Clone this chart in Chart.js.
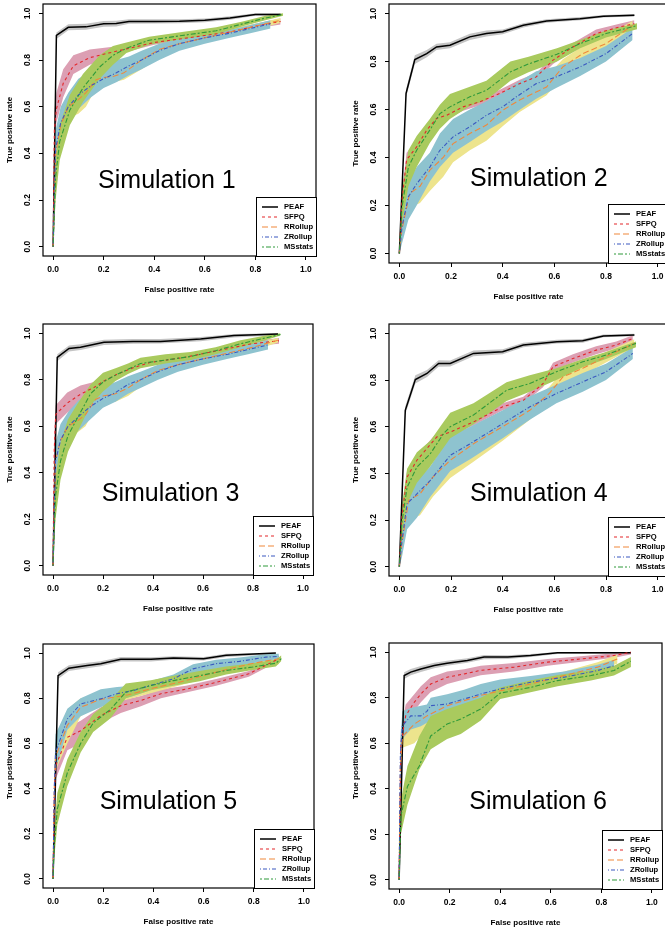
<!DOCTYPE html>
<html>
<head>
<meta charset="utf-8">
<script src="https://cdn.jsdelivr.net/npm/chart.js@4.4.0/dist/chart.umd.min.js"></script>
<style>
  html, body { margin: 0; padding: 0; background: #fff; width: 665px; height: 930px; overflow: hidden; }
  canvas { position: absolute; left: 0; top: 0; }
</style>
</head>
<body>
<script>
// ---- data ----
const methods = ["PEAF", "SFPQ", "RRollup", "ZRollup", "MSstats"];
const tickValues = [0, 0.2, 0.4, 0.6, 0.8, 1.0];
const xTitle = "False positive rate";
const yTitle = "True positive rate";

// Simulation 1
const sim1PEAF_fpr = [0, 0.013, 0.06, 0.13, 0.2, 0.25, 0.3, 0.4, 0.5, 0.6, 0.7, 0.8, 0.9];
const sim1PEAF_tpr = [0, 0.905, 0.94, 0.942, 0.955, 0.956, 0.965, 0.965, 0.966, 0.97, 0.98, 0.995, 0.995];
const sim1PEAF_lo = [0, 0.89, 0.927, 0.93, 0.943, 0.944, 0.955, 0.956, 0.957, 0.962, 0.972, 0.99, 0.99];
const sim1PEAF_hi = [0.01, 0.918, 0.953, 0.955, 0.967, 0.968, 0.975, 0.975, 0.975, 0.978, 0.988, 1.0, 1.0];
const sim1SFPQ_fpr = [0, 0.005, 0.013, 0.04, 0.08, 0.145, 0.22, 0.3, 0.4, 0.5, 0.6, 0.7, 0.8, 0.9];
const sim1SFPQ_tpr = [0, 0.5, 0.59, 0.7, 0.775, 0.81, 0.83, 0.85, 0.875, 0.89, 0.905, 0.92, 0.945, 0.965];
const sim1SFPQ_lo = [0, 0.42, 0.53, 0.64, 0.74, 0.78, 0.81, 0.838, 0.865, 0.88, 0.895, 0.91, 0.935, 0.952];
const sim1SFPQ_hi = [0, 0.58, 0.66, 0.76, 0.82, 0.845, 0.855, 0.865, 0.885, 0.9, 0.915, 0.93, 0.955, 0.978];
const sim1RR_fpr = [0, 0.01, 0.03, 0.06, 0.1, 0.13, 0.17, 0.2, 0.24, 0.28, 0.35, 0.42, 0.5, 0.6, 0.7, 0.8, 0.9];
const sim1RR_tpr = [0, 0.4, 0.52, 0.6, 0.63, 0.66, 0.715, 0.725, 0.73, 0.745, 0.8, 0.845, 0.87, 0.895, 0.92, 0.945, 0.97];
const sim1RR_lo = [0, 0.3, 0.44, 0.55, 0.57, 0.6, 0.68, 0.7, 0.705, 0.715, 0.76, 0.81, 0.845, 0.875, 0.9, 0.93, 0.96];
const sim1RR_hi = [0, 0.46, 0.58, 0.65, 0.69, 0.7, 0.735, 0.75, 0.76, 0.775, 0.82, 0.86, 0.885, 0.91, 0.935, 0.955, 0.98];
const sim1ZR_fpr = [0, 0.01, 0.03, 0.06, 0.1, 0.15, 0.2, 0.25, 0.3, 0.35, 0.42, 0.5, 0.6, 0.7, 0.78, 0.86];
const sim1ZR_tpr = [0, 0.42, 0.53, 0.6, 0.65, 0.69, 0.72, 0.745, 0.775, 0.8, 0.84, 0.87, 0.895, 0.915, 0.935, 0.955];
const sim1ZR_lo = [0, 0.33, 0.46, 0.54, 0.59, 0.64, 0.68, 0.705, 0.735, 0.76, 0.8, 0.84, 0.87, 0.895, 0.915, 0.935];
const sim1ZR_hi = [0, 0.5, 0.6, 0.66, 0.72, 0.755, 0.78, 0.8, 0.815, 0.84, 0.87, 0.89, 0.91, 0.93, 0.95, 0.97];
const sim1MS_fpr = [0, 0.01, 0.026, 0.066, 0.118, 0.184, 0.237, 0.29, 0.38, 0.51, 0.645, 0.75, 0.84, 0.91];
const sim1MS_tpr = [0, 0.3, 0.45, 0.585, 0.68, 0.77, 0.82, 0.85, 0.885, 0.905, 0.925, 0.955, 0.98, 0.995];
const sim1MS_lo = [0, 0.2, 0.37, 0.52, 0.62, 0.72, 0.78, 0.83, 0.865, 0.89, 0.91, 0.945, 0.97, 0.99];
const sim1MS_hi = [0, 0.38, 0.52, 0.65, 0.74, 0.82, 0.86, 0.875, 0.9, 0.92, 0.94, 0.965, 0.99, 1.0];

// Simulation 2
const sim2PEAF_fpr = [0, 0.026, 0.06, 0.106, 0.144, 0.196, 0.273, 0.337, 0.4, 0.48, 0.57, 0.7, 0.79, 0.91];
const sim2PEAF_tpr = [0, 0.667, 0.808, 0.833, 0.861, 0.868, 0.903, 0.917, 0.924, 0.951, 0.969, 0.979, 0.989, 0.993];
const sim2PEAF_lo = [0, 0.65, 0.79, 0.818, 0.848, 0.855, 0.89, 0.905, 0.914, 0.942, 0.962, 0.972, 0.984, 0.988];
const sim2PEAF_hi = [0, 0.685, 0.826, 0.848, 0.874, 0.881, 0.916, 0.929, 0.934, 0.96, 0.976, 0.986, 0.994, 0.998];
const sim2SFPQ_fpr = [0, 0.01, 0.028, 0.067, 0.106, 0.144, 0.183, 0.247, 0.311, 0.389, 0.466, 0.53, 0.595, 0.672, 0.762, 0.852, 0.91];
const sim2SFPQ_tpr = [0, 0.22, 0.39, 0.444, 0.514, 0.563, 0.576, 0.611, 0.632, 0.667, 0.708, 0.736, 0.806, 0.861, 0.917, 0.944, 0.958];
const sim2SFPQ_lo = [0, 0.19, 0.36, 0.42, 0.495, 0.545, 0.56, 0.595, 0.617, 0.652, 0.692, 0.72, 0.79, 0.845, 0.9, 0.93, 0.945];
const sim2SFPQ_hi = [0, 0.25, 0.42, 0.468, 0.533, 0.58, 0.595, 0.627, 0.647, 0.682, 0.724, 0.752, 0.822, 0.877, 0.934, 0.958, 0.972];
const sim2RR_fpr = [0, 0.01, 0.04, 0.08, 0.118, 0.17, 0.208, 0.273, 0.337, 0.4, 0.466, 0.57, 0.633, 0.71, 0.8, 0.903];
const sim2RR_tpr = [0, 0.1, 0.25, 0.28, 0.347, 0.4, 0.458, 0.5, 0.535, 0.597, 0.64, 0.694, 0.778, 0.833, 0.875, 0.951];
const sim2RR_lo = [0, 0.06, 0.19, 0.21, 0.26, 0.32, 0.38, 0.43, 0.47, 0.53, 0.59, 0.66, 0.74, 0.8, 0.85, 0.935];
const sim2RR_hi = [0, 0.14, 0.3, 0.33, 0.4, 0.45, 0.5, 0.55, 0.59, 0.64, 0.69, 0.74, 0.81, 0.865, 0.905, 0.97];
const sim2ZR_fpr = [0, 0.01, 0.035, 0.067, 0.118, 0.157, 0.208, 0.273, 0.337, 0.4, 0.453, 0.53, 0.607, 0.7, 0.8, 0.903];
const sim2ZR_tpr = [0, 0.11, 0.236, 0.29, 0.36, 0.43, 0.486, 0.528, 0.576, 0.611, 0.653, 0.708, 0.736, 0.778, 0.833, 0.917];
const sim2ZR_lo = [0, 0.04, 0.14, 0.2, 0.3, 0.36, 0.42, 0.465, 0.51, 0.55, 0.59, 0.645, 0.69, 0.74, 0.8, 0.89];
const sim2ZR_hi = [0, 0.18, 0.3, 0.36, 0.42, 0.5, 0.56, 0.6, 0.635, 0.67, 0.71, 0.76, 0.78, 0.815, 0.865, 0.94];
const sim2MS_fpr = [0, 0.01, 0.035, 0.067, 0.118, 0.157, 0.196, 0.273, 0.337, 0.43, 0.5, 0.61, 0.7, 0.8, 0.92];
const sim2MS_tpr = [0, 0.19, 0.36, 0.43, 0.514, 0.583, 0.611, 0.653, 0.68, 0.757, 0.79, 0.83, 0.875, 0.917, 0.95];
const sim2MS_lo = [0, 0.12, 0.28, 0.36, 0.46, 0.52, 0.56, 0.615, 0.64, 0.72, 0.755, 0.8, 0.855, 0.9, 0.935];
const sim2MS_hi = [0, 0.26, 0.43, 0.49, 0.56, 0.62, 0.665, 0.695, 0.72, 0.8, 0.82, 0.855, 0.89, 0.93, 0.96];

// Simulation 3
const sim3PEAF_fpr = [0, 0.017, 0.064, 0.11, 0.204, 0.32, 0.43, 0.59, 0.724, 0.9];
const sim3PEAF_tpr = [0, 0.896, 0.935, 0.94, 0.961, 0.965, 0.965, 0.975, 0.99, 0.997];
const sim3PEAF_lo = [0, 0.88, 0.922, 0.928, 0.95, 0.955, 0.956, 0.966, 0.982, 0.992];
const sim3PEAF_hi = [0.01, 0.91, 0.948, 0.953, 0.972, 0.975, 0.975, 0.984, 0.997, 1.0];
const sim3SFPQ_fpr = [0, 0.005, 0.011, 0.057, 0.11, 0.164, 0.204, 0.257, 0.324, 0.39, 0.524, 0.657, 0.79, 0.904];
const sim3SFPQ_tpr = [0, 0.5, 0.651, 0.7, 0.738, 0.767, 0.795, 0.824, 0.853, 0.875, 0.896, 0.925, 0.954, 0.968];
const sim3SFPQ_lo = [0, 0.42, 0.61, 0.658, 0.7, 0.745, 0.78, 0.812, 0.843, 0.865, 0.886, 0.915, 0.944, 0.955];
const sim3SFPQ_hi = [0, 0.58, 0.69, 0.745, 0.775, 0.79, 0.81, 0.836, 0.863, 0.885, 0.906, 0.935, 0.964, 0.98];
const sim3RR_fpr = [0, 0.01, 0.03, 0.06, 0.1, 0.13, 0.17, 0.2, 0.25, 0.3, 0.35, 0.42, 0.5, 0.6, 0.7, 0.8, 0.9];
const sim3RR_tpr = [0, 0.45, 0.54, 0.6, 0.625, 0.65, 0.715, 0.73, 0.74, 0.765, 0.8, 0.84, 0.865, 0.89, 0.915, 0.94, 0.97];
const sim3RR_lo = [0, 0.35, 0.47, 0.55, 0.575, 0.6, 0.68, 0.7, 0.705, 0.73, 0.77, 0.81, 0.84, 0.87, 0.895, 0.925, 0.96];
const sim3RR_hi = [0, 0.52, 0.6, 0.65, 0.68, 0.7, 0.735, 0.75, 0.765, 0.79, 0.82, 0.86, 0.88, 0.905, 0.93, 0.955, 0.98];
const sim3ZR_fpr = [0, 0.01, 0.03, 0.06, 0.1, 0.15, 0.2, 0.25, 0.3, 0.35, 0.42, 0.5, 0.6, 0.7, 0.78, 0.86];
const sim3ZR_tpr = [0, 0.45, 0.54, 0.6, 0.64, 0.685, 0.72, 0.745, 0.78, 0.8, 0.835, 0.865, 0.89, 0.91, 0.93, 0.95];
const sim3ZR_lo = [0, 0.36, 0.47, 0.54, 0.58, 0.63, 0.68, 0.705, 0.74, 0.765, 0.8, 0.835, 0.865, 0.89, 0.91, 0.93];
const sim3ZR_hi = [0, 0.53, 0.61, 0.66, 0.71, 0.745, 0.77, 0.79, 0.815, 0.835, 0.865, 0.89, 0.91, 0.93, 0.95, 0.97];
const sim3MS_fpr = [0, 0.01, 0.03, 0.06, 0.1, 0.15, 0.2, 0.25, 0.3, 0.35, 0.45, 0.55, 0.65, 0.75, 0.85, 0.91];
const sim3MS_tpr = [0, 0.3, 0.45, 0.56, 0.64, 0.74, 0.79, 0.82, 0.845, 0.87, 0.885, 0.9, 0.925, 0.955, 0.98, 0.995];
const sim3MS_lo = [0, 0.2, 0.37, 0.49, 0.58, 0.69, 0.75, 0.795, 0.825, 0.85, 0.87, 0.885, 0.91, 0.94, 0.97, 0.99];
const sim3MS_hi = [0, 0.38, 0.53, 0.63, 0.7, 0.78, 0.83, 0.85, 0.87, 0.895, 0.91, 0.92, 0.94, 0.97, 0.99, 1.0];

// Simulation 4
const sim4PEAF_fpr = [0, 0.023, 0.062, 0.107, 0.152, 0.197, 0.287, 0.4, 0.48, 0.61, 0.71, 0.79, 0.91];
const sim4PEAF_tpr = [0, 0.67, 0.802, 0.828, 0.871, 0.871, 0.914, 0.921, 0.95, 0.964, 0.968, 0.989, 0.993];
const sim4PEAF_lo = [0, 0.652, 0.785, 0.813, 0.857, 0.858, 0.902, 0.91, 0.94, 0.956, 0.96, 0.983, 0.988];
const sim4PEAF_hi = [0, 0.688, 0.82, 0.843, 0.885, 0.884, 0.926, 0.932, 0.96, 0.972, 0.976, 0.995, 0.998];
const sim4SFPQ_fpr = [0, 0.01, 0.03, 0.068, 0.145, 0.197, 0.287, 0.4, 0.48, 0.557, 0.595, 0.672, 0.762, 0.84, 0.904];
const sim4SFPQ_tpr = [0, 0.22, 0.384, 0.456, 0.556, 0.577, 0.62, 0.685, 0.713, 0.785, 0.857, 0.892, 0.928, 0.95, 0.978];
const sim4SFPQ_lo = [0, 0.19, 0.355, 0.435, 0.538, 0.56, 0.605, 0.67, 0.698, 0.77, 0.84, 0.875, 0.91, 0.935, 0.962];
const sim4SFPQ_hi = [0, 0.25, 0.41, 0.478, 0.574, 0.595, 0.635, 0.7, 0.728, 0.8, 0.874, 0.91, 0.945, 0.965, 0.992];
const sim4RR_fpr = [0, 0.01, 0.036, 0.08, 0.13, 0.197, 0.287, 0.4, 0.505, 0.58, 0.634, 0.71, 0.8, 0.91];
const sim4RR_tpr = [0, 0.1, 0.284, 0.312, 0.384, 0.456, 0.527, 0.6, 0.67, 0.742, 0.814, 0.85, 0.9, 0.957];
const sim4RR_lo = [0, 0.06, 0.2, 0.22, 0.3, 0.38, 0.45, 0.54, 0.63, 0.7, 0.78, 0.82, 0.875, 0.94];
const sim4RR_hi = [0, 0.14, 0.32, 0.35, 0.43, 0.5, 0.57, 0.64, 0.7, 0.77, 0.84, 0.87, 0.92, 0.975];
const sim4ZR_fpr = [0, 0.01, 0.03, 0.068, 0.12, 0.197, 0.274, 0.4, 0.505, 0.608, 0.71, 0.8, 0.904];
const sim4ZR_tpr = [0, 0.11, 0.27, 0.312, 0.37, 0.477, 0.527, 0.613, 0.685, 0.742, 0.792, 0.835, 0.914];
const sim4ZR_lo = [0, 0.04, 0.16, 0.21, 0.3, 0.41, 0.46, 0.55, 0.63, 0.7, 0.75, 0.8, 0.89];
const sim4ZR_hi = [0, 0.18, 0.33, 0.37, 0.43, 0.56, 0.6, 0.67, 0.73, 0.78, 0.83, 0.87, 0.94];
const sim4MS_fpr = [0, 0.01, 0.03, 0.068, 0.12, 0.171, 0.197, 0.287, 0.415, 0.505, 0.608, 0.71, 0.8, 0.916];
const sim4MS_tpr = [0, 0.19, 0.34, 0.427, 0.484, 0.57, 0.6, 0.65, 0.756, 0.785, 0.835, 0.878, 0.907, 0.957];
const sim4MS_lo = [0, 0.12, 0.27, 0.36, 0.43, 0.51, 0.55, 0.61, 0.71, 0.75, 0.8, 0.855, 0.89, 0.94];
const sim4MS_hi = [0, 0.26, 0.42, 0.49, 0.54, 0.62, 0.66, 0.7, 0.79, 0.82, 0.85, 0.89, 0.92, 0.965];

// Simulation 5
const sim5PEAF_fpr = [0, 0.02, 0.063, 0.136, 0.19, 0.27, 0.39, 0.48, 0.6, 0.69, 0.888];
const sim5PEAF_tpr = [0, 0.9, 0.933, 0.945, 0.953, 0.972, 0.972, 0.978, 0.975, 0.99, 1.0];
const sim5PEAF_lo = [0, 0.885, 0.92, 0.933, 0.942, 0.962, 0.963, 0.97, 0.967, 0.983, 0.995];
const sim5PEAF_hi = [0.01, 0.915, 0.946, 0.957, 0.964, 0.982, 0.981, 0.986, 0.983, 0.997, 1.0];
const sim5SFPQ_fpr = [0, 0.005, 0.01, 0.057, 0.11, 0.19, 0.27, 0.35, 0.43, 0.53, 0.65, 0.78, 0.9];
const sim5SFPQ_tpr = [0, 0.35, 0.5, 0.627, 0.656, 0.723, 0.767, 0.79, 0.82, 0.84, 0.87, 0.908, 0.975];
const sim5SFPQ_lo = [0, 0.28, 0.44, 0.57, 0.6, 0.69, 0.735, 0.765, 0.8, 0.825, 0.855, 0.895, 0.965];
const sim5SFPQ_hi = [0, 0.42, 0.56, 0.67, 0.7, 0.76, 0.79, 0.81, 0.84, 0.855, 0.885, 0.92, 0.99];
const sim5RR_fpr = [0, 0.005, 0.01, 0.057, 0.11, 0.19, 0.3, 0.4, 0.5, 0.6, 0.7, 0.8, 0.9];
const sim5RR_tpr = [0, 0.4, 0.54, 0.68, 0.76, 0.795, 0.815, 0.845, 0.87, 0.9, 0.93, 0.955, 0.975];
const sim5RR_lo = [0, 0.32, 0.48, 0.6, 0.72, 0.77, 0.795, 0.825, 0.855, 0.885, 0.915, 0.94, 0.95];
const sim5RR_hi = [0, 0.48, 0.6, 0.75, 0.8, 0.82, 0.835, 0.865, 0.89, 0.915, 0.945, 0.965, 0.99];
const sim5ZR_fpr = [0, 0.005, 0.01, 0.057, 0.11, 0.19, 0.255, 0.32, 0.387, 0.48, 0.558, 0.65, 0.743, 0.848, 0.9];
const sim5ZR_tpr = [0, 0.4, 0.56, 0.708, 0.775, 0.797, 0.82, 0.834, 0.856, 0.886, 0.93, 0.953, 0.963, 0.982, 0.985];
const sim5ZR_lo = [0, 0.33, 0.48, 0.66, 0.72, 0.76, 0.79, 0.81, 0.835, 0.865, 0.9, 0.93, 0.945, 0.965, 0.975];
const sim5ZR_hi = [0, 0.47, 0.64, 0.753, 0.8, 0.84, 0.85, 0.855, 0.875, 0.905, 0.95, 0.97, 0.98, 0.995, 0.997];
const sim5MS_fpr = [0, 0.004, 0.017, 0.057, 0.11, 0.16, 0.228, 0.29, 0.39, 0.48, 0.584, 0.69, 0.795, 0.888, 0.91];
const sim5MS_tpr = [0, 0.13, 0.31, 0.47, 0.6, 0.69, 0.75, 0.827, 0.856, 0.878, 0.9, 0.923, 0.938, 0.955, 0.975];
const sim5MS_lo = [0, 0.08, 0.24, 0.41, 0.56, 0.65, 0.71, 0.8, 0.835, 0.855, 0.875, 0.905, 0.925, 0.94, 0.965];
const sim5MS_hi = [0, 0.2, 0.38, 0.53, 0.65, 0.73, 0.79, 0.865, 0.88, 0.9, 0.92, 0.94, 0.955, 0.97, 0.99];

// Simulation 6
const sim6PEAF_fpr = [0, 0.02, 0.046, 0.086, 0.139, 0.19, 0.27, 0.336, 0.43, 0.52, 0.627, 0.917];
const sim6PEAF_tpr = [0, 0.897, 0.912, 0.926, 0.941, 0.951, 0.963, 0.978, 0.978, 0.985, 0.997, 0.997];
const sim6PEAF_lo = [0, 0.882, 0.898, 0.913, 0.929, 0.94, 0.953, 0.969, 0.97, 0.978, 0.992, 0.992];
const sim6PEAF_hi = [0.01, 0.912, 0.926, 0.939, 0.953, 0.962, 0.973, 0.987, 0.986, 0.992, 1.0, 1.0];
const sim6SFPQ_fpr = [0, 0.007, 0.026, 0.06, 0.086, 0.125, 0.19, 0.257, 0.323, 0.455, 0.587, 0.72, 0.85, 0.917];
const sim6SFPQ_tpr = [0, 0.6, 0.72, 0.78, 0.816, 0.86, 0.89, 0.904, 0.92, 0.934, 0.956, 0.97, 0.985, 1.0];
const sim6SFPQ_lo = [0, 0.55, 0.67, 0.74, 0.78, 0.825, 0.86, 0.88, 0.898, 0.915, 0.94, 0.958, 0.975, 0.99];
const sim6SFPQ_hi = [0, 0.66, 0.77, 0.815, 0.85, 0.89, 0.915, 0.925, 0.94, 0.952, 0.97, 0.982, 0.995, 1.0];
const sim6RR_fpr = [0, 0.005, 0.013, 0.06, 0.11, 0.19, 0.257, 0.323, 0.4, 0.52, 0.653, 0.785, 0.864];
const sim6RR_tpr = [0, 0.5, 0.63, 0.684, 0.72, 0.765, 0.787, 0.81, 0.83, 0.86, 0.897, 0.934, 0.97];
const sim6RR_lo = [0, 0.45, 0.58, 0.6, 0.66, 0.73, 0.76, 0.79, 0.815, 0.85, 0.88, 0.915, 0.95];
const sim6RR_hi = [0, 0.56, 0.67, 0.72, 0.75, 0.785, 0.805, 0.83, 0.85, 0.875, 0.915, 0.955, 0.99];
const sim6ZR_fpr = [0, 0.005, 0.013, 0.046, 0.086, 0.11, 0.125, 0.19, 0.257, 0.323, 0.4, 0.52, 0.653, 0.785, 0.85];
const sim6ZR_tpr = [0, 0.55, 0.676, 0.72, 0.72, 0.74, 0.765, 0.772, 0.794, 0.816, 0.838, 0.868, 0.89, 0.919, 0.94];
const sim6ZR_lo = [0, 0.5, 0.62, 0.66, 0.675, 0.69, 0.7, 0.735, 0.765, 0.79, 0.815, 0.845, 0.865, 0.895, 0.92];
const sim6ZR_hi = [0, 0.62, 0.74, 0.755, 0.765, 0.77, 0.8, 0.815, 0.835, 0.86, 0.88, 0.895, 0.915, 0.945, 0.965];
const sim6MS_fpr = [0, 0.007, 0.033, 0.08, 0.125, 0.19, 0.244, 0.323, 0.4, 0.52, 0.627, 0.759, 0.85, 0.917];
const sim6MS_tpr = [0, 0.28, 0.41, 0.5, 0.632, 0.684, 0.706, 0.75, 0.82, 0.845, 0.875, 0.897, 0.919, 0.96];
const sim6MS_lo = [0, 0.2, 0.33, 0.485, 0.574, 0.618, 0.64, 0.7, 0.794, 0.824, 0.85, 0.875, 0.897, 0.935];
const sim6MS_hi = [0, 0.35, 0.5, 0.632, 0.72, 0.75, 0.77, 0.8, 0.845, 0.875, 0.9, 0.92, 0.94, 0.978];

// ---- styles ----
const lineColors = ["#000000", "#e3262b", "#f0883a", "#3a58c0", "#2f9a3a"];
const lineDash = [[], [3, 3], [6, 3], [1, 2, 4, 2], [2, 2, 5, 2]];
const lineWidths = [1.5, 1.1, 1.1, 1.1, 1.1];
const bandColors = ["#c4c4c4", "#dc9fb3", "#ede48d", "#8ec3cf", "#a9ca5e"];
const fontFamily = '"Liberation Sans", Arial, Helvetica, sans-serif';

// plot boxes in page pixels, and where the "Simulation n" text sits (data units)
const panels = [
  { label: "Simulation 1", box: [43, 4, 316, 256], at: [0.45, 0.28],
    series: [[sim1PEAF_fpr, sim1PEAF_tpr, sim1PEAF_lo, sim1PEAF_hi], [sim1SFPQ_fpr, sim1SFPQ_tpr, sim1SFPQ_lo, sim1SFPQ_hi],
             [sim1RR_fpr, sim1RR_tpr, sim1RR_lo, sim1RR_hi], [sim1ZR_fpr, sim1ZR_tpr, sim1ZR_lo, sim1ZR_hi], [sim1MS_fpr, sim1MS_tpr, sim1MS_lo, sim1MS_hi]] },
  { label: "Simulation 2", box: [389, 4, 668, 263], at: [0.54, 0.31],
    series: [[sim2PEAF_fpr, sim2PEAF_tpr, sim2PEAF_lo, sim2PEAF_hi], [sim2SFPQ_fpr, sim2SFPQ_tpr, sim2SFPQ_lo, sim2SFPQ_hi],
             [sim2RR_fpr, sim2RR_tpr, sim2RR_lo, sim2RR_hi], [sim2ZR_fpr, sim2ZR_tpr, sim2ZR_lo, sim2ZR_hi], [sim2MS_fpr, sim2MS_tpr, sim2MS_lo, sim2MS_hi]] },
  { label: "Simulation 3", box: [43, 324, 313, 575], at: [0.47, 0.31],
    series: [[sim3PEAF_fpr, sim3PEAF_tpr, sim3PEAF_lo, sim3PEAF_hi], [sim3SFPQ_fpr, sim3SFPQ_tpr, sim3SFPQ_lo, sim3SFPQ_hi],
             [sim3RR_fpr, sim3RR_tpr, sim3RR_lo, sim3RR_hi], [sim3ZR_fpr, sim3ZR_tpr, sim3ZR_lo, sim3ZR_hi], [sim3MS_fpr, sim3MS_tpr, sim3MS_lo, sim3MS_hi]] },
  { label: "Simulation 4", box: [389, 324, 668, 576], at: [0.54, 0.31],
    series: [[sim4PEAF_fpr, sim4PEAF_tpr, sim4PEAF_lo, sim4PEAF_hi], [sim4SFPQ_fpr, sim4SFPQ_tpr, sim4SFPQ_lo, sim4SFPQ_hi],
             [sim4RR_fpr, sim4RR_tpr, sim4RR_lo, sim4RR_hi], [sim4ZR_fpr, sim4ZR_tpr, sim4ZR_lo, sim4ZR_hi], [sim4MS_fpr, sim4MS_tpr, sim4MS_lo, sim4MS_hi]] },
  { label: "Simulation 5", box: [43, 644, 314, 888], at: [0.46, 0.34],
    series: [[sim5PEAF_fpr, sim5PEAF_tpr, sim5PEAF_lo, sim5PEAF_hi], [sim5SFPQ_fpr, sim5SFPQ_tpr, sim5SFPQ_lo, sim5SFPQ_hi],
             [sim5RR_fpr, sim5RR_tpr, sim5RR_lo, sim5RR_hi], [sim5ZR_fpr, sim5ZR_tpr, sim5ZR_lo, sim5ZR_hi], [sim5MS_fpr, sim5MS_tpr, sim5MS_lo, sim5MS_hi]] },
  { label: "Simulation 6", box: [389, 643, 662, 889], at: [0.55, 0.34],
    series: [[sim6PEAF_fpr, sim6PEAF_tpr, sim6PEAF_lo, sim6PEAF_hi], [sim6SFPQ_fpr, sim6SFPQ_tpr, sim6SFPQ_lo, sim6SFPQ_hi],
             [sim6RR_fpr, sim6RR_tpr, sim6RR_lo, sim6RR_hi], [sim6ZR_fpr, sim6ZR_tpr, sim6ZR_lo, sim6ZR_hi], [sim6MS_fpr, sim6MS_tpr, sim6MS_lo, sim6MS_hi]] },
];

const CW = 700, CH = 930;

function points(xs, ys) {
  return xs.map((x, k) => ({ x: x, y: ys[k] }));
}

function buildDatasets(series) {
  const ds = [];
  // bands: lower edge then upper edge filled down to it
  series.forEach((s, i) => {
    ds.push({ data: points(s[0], s[2]), borderWidth: 0, pointRadius: 0, fill: false, order: 20 - i });
    ds.push({ data: points(s[0], s[3]), borderWidth: 0, pointRadius: 0, fill: "-1",
              backgroundColor: bandColors[i], order: 20 - i });
  });
  series.forEach((s, i) => {
    ds.push({ data: points(s[0], s[1]), borderColor: lineColors[i], borderWidth: lineWidths[i],
              borderDash: lineDash[i], pointRadius: 0, fill: false, order: 5 - i });
  });
  return ds;
}

const decoPlugin = {
  id: "deco",
  afterDraw(chart) {
    const o = chart.options.plugins.deco;
    const ctx = chart.ctx, a = chart.chartArea;
    const xs = chart.scales.x, ys = chart.scales.y;
    ctx.save();
    ctx.strokeStyle = "#000";
    ctx.lineWidth = 1.2;
    ctx.strokeRect(a.left, a.top, a.right - a.left, a.bottom - a.top);

    ctx.fillStyle = "#000";
    ctx.font = "bold 8.5px " + fontFamily;
    ctx.textAlign = "center";
    ctx.textBaseline = "middle";
    tickValues.forEach(v => ctx.fillText(v.toFixed(1), xs.getPixelForValue(v), a.bottom + 14));
    tickValues.forEach(v => {
      ctx.save();
      ctx.translate(a.left - 15, ys.getPixelForValue(v));
      ctx.rotate(-Math.PI / 2);
      ctx.fillText(v.toFixed(1), 0, 0);
      ctx.restore();
    });
    ctx.font = "bold 8px " + fontFamily;
    ctx.fillText(xTitle, (a.left + a.right) / 2, a.bottom + 34);
    ctx.save();
    ctx.translate(a.left - 33, (a.top + a.bottom) / 2);
    ctx.rotate(-Math.PI / 2);
    ctx.fillText(yTitle, 0, 0);
    ctx.restore();

    ctx.font = "25px " + fontFamily;
    ctx.fillText(o.label, xs.getPixelForValue(o.at[0]), ys.getPixelForValue(o.at[1]));

    // legend in the bottom right corner
    const lw = 60, lh = 59;
    const lx = a.right - lw, ly = a.bottom - lh;
    ctx.fillStyle = "#fff";
    ctx.fillRect(lx, ly, lw, lh);
    ctx.lineWidth = 1;
    ctx.strokeStyle = "#000";
    ctx.strokeRect(lx + 0.5, ly + 0.5, lw, lh);
    ctx.font = "bold 7.6px " + fontFamily;
    ctx.textAlign = "left";
    methods.forEach((m, i) => {
      const y = ly + 10 + i * 10;
      ctx.beginPath();
      ctx.setLineDash(lineDash[i]);
      ctx.strokeStyle = lineColors[i];
      ctx.lineWidth = lineWidths[i];
      ctx.moveTo(lx + 6, y);
      ctx.lineTo(lx + 22, y);
      ctx.stroke();
      ctx.setLineDash([]);
      ctx.fillStyle = "#000";
      ctx.fillText(m, lx + 28, y);
    });
    ctx.restore();
  }
};

function axis(fitFn) {
  return {
    type: "linear", min: -0.04, max: 1.04,
    afterBuildTicks: s => { s.ticks = tickValues.map(v => ({ value: v })); },
    afterFit: fitFn,
    ticks: { display: false },
    grid: { drawOnChartArea: false, drawTicks: true, tickLength: 4, color: "#000", lineWidth: 1 },
    border: { display: false },
  };
}

panels.forEach(p => {
  const cv = document.createElement("canvas");
  cv.width = CW; cv.height = CH;
  cv.style.width = CW + "px"; cv.style.height = CH + "px";
  document.body.appendChild(cv);
  const [L, T, R, B] = p.box;
  new Chart(cv, {
    type: "line",
    data: { datasets: buildDatasets(p.series) },
    options: {
      responsive: false,
      devicePixelRatio: 1,
      animation: false,
      events: [],
      layout: { padding: { left: L, top: T, right: CW - R, bottom: CH - B } },
      scales: {
        x: axis(s => { s.height = 0; }),
        y: axis(s => { s.width = 0; }),
      },
      plugins: {
        legend: { display: false },
        tooltip: { enabled: false },
        deco: { label: p.label, at: p.at },
      },
    },
    plugins: [decoPlugin],
  });
});
</script>
</body>
</html>
